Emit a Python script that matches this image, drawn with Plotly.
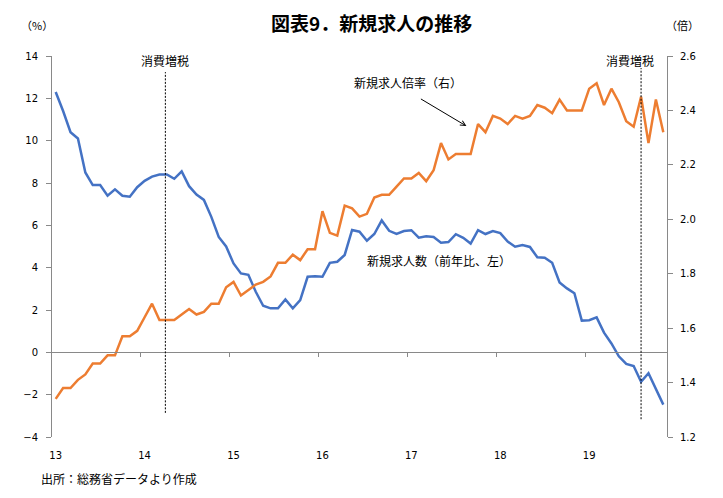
import plotly.graph_objects as go

# ---- data (monthly, Jan 2013 .. Nov 2019) ----
year_labels = ["13", "14", "15", "16", "17", "18", "19"]

new_openings_yoy = [  # 新規求人数（前年比、%） left axis
    12.3, 11.4, 10.4, 10.1, 8.5, 7.9, 7.9, 7.4, 7.7, 7.4, 7.35, 7.8,
    8.1, 8.3, 8.4, 8.4, 8.2, 8.55, 7.85, 7.45, 7.2, 6.4, 5.45, 5.0,
    4.2, 3.73, 3.66, 2.86, 2.2, 2.08, 2.08, 2.5, 2.08, 2.47, 3.57, 3.6,
    3.57, 4.23, 4.28, 4.6, 5.78, 5.7, 5.27, 5.59, 6.23, 5.74, 5.6, 5.73,
    5.77, 5.42, 5.48, 5.45, 5.18, 5.21, 5.58, 5.41, 5.14, 5.77, 5.59, 5.73,
    5.63, 5.23, 4.99, 5.07, 4.98, 4.49, 4.47, 4.23, 3.3, 3.02, 2.79, 1.5,
    1.52, 1.65, 0.93, 0.42, -0.19, -0.55, -0.65, -1.39, -0.99, -1.7, -2.47,
]

new_openings_ratio = [  # 新規求人倍率（倍） right axis
    1.34, 1.38, 1.38, 1.41, 1.43, 1.47, 1.47, 1.50, 1.50, 1.57, 1.57, 1.59,
    1.64, 1.69, 1.63, 1.63, 1.63, 1.65, 1.67, 1.65, 1.66, 1.69, 1.69, 1.75,
    1.77, 1.72, 1.74, 1.76, 1.77, 1.79, 1.84, 1.84, 1.87, 1.85, 1.89, 1.89,
    2.03, 1.95, 1.94, 2.05, 2.04, 2.01, 2.02, 2.08, 2.09, 2.09, 2.12, 2.15,
    2.15, 2.17, 2.14, 2.18, 2.28, 2.22, 2.24, 2.24, 2.24, 2.35, 2.32, 2.38,
    2.37, 2.35, 2.38, 2.37, 2.38, 2.42, 2.41, 2.39, 2.44, 2.40, 2.40, 2.40,
    2.48, 2.50, 2.42, 2.48, 2.43, 2.36, 2.34, 2.45, 2.28, 2.44, 2.32,
]

tax_hike_positions = [14.8, 79]   # month index where 消費増税 markers are drawn

n = len(new_openings_yoy)
months = list(range(n))
label_pos = [i * 12 for i in range(len(year_labels))]
boundary_ticks = [i * 12 - 0.5 for i in range(1, len(year_labels))]

BLUE = "#4472C4"
ORANGE = "#ED7D31"
GRAY = "#898989"
NUM_FONT = dict(family="DejaVu Sans", size=10, color="#000000")
JP = "Noto Sans CJK JP"

# plot area in page pixels (reference): x 52..667, y 56..437
PX0, PX1, PY0, PY1 = 52, 667, 56, 437
def px(x):
    return (x - PX0) / (PX1 - PX0)
def py(y):
    return (PY1 - y) / (PY1 - PY0)

fig = go.Figure()
fig.add_trace(go.Scatter(x=months, y=new_openings_yoy, mode="lines",
                         line=dict(color=BLUE, width=2.5), name="新規求人数（前年比、左）",
                         xaxis="x", yaxis="y"))
fig.add_trace(go.Scatter(x=months, y=new_openings_ratio, mode="lines",
                         line=dict(color=ORANGE, width=2.5), name="新規求人倍率（右）",
                         xaxis="x2", yaxis="y2"))

xr = [-0.5, n - 0.5]
fig.update_layout(
    width=707, height=482,
    margin=dict(l=44, r=48, t=48, b=53, pad=0),
    paper_bgcolor="white", plot_bgcolor="white",
    showlegend=False,
    xaxis=dict(range=xr, tickvals=label_pos, ticktext=year_labels, ticks="",
               showline=False, showgrid=False, zeroline=False, tickfont=NUM_FONT,
               anchor="y", ticklabelstandoff=11),
    xaxis2=dict(range=xr, matches="x", overlaying="x", anchor="free", position=4 / 18,
                tickvals=boundary_ticks, ticks="outside", ticklen=4, tickcolor=GRAY,
                showticklabels=False, showline=True, linecolor=GRAY, linewidth=1,
                showgrid=False, zeroline=False),
    yaxis=dict(range=[-4, 14], dtick=2, tick0=0, ticks="outside", ticklen=5,
               tickcolor=GRAY, showline=True, linecolor=GRAY, linewidth=1,
               showgrid=False, zeroline=False, tickfont=NUM_FONT, ticklabelstandoff=6),
    yaxis2=dict(range=[1.2, 2.6], dtick=0.2, tick0=1.2, tickformat=".1f",
                overlaying="y", side="right", anchor="free", position=1,
                ticks="outside", ticklen=5, tickcolor=GRAY, showline=True,
                linecolor=GRAY, linewidth=1, showgrid=False, zeroline=False,
                tickfont=NUM_FONT, ticklabelstandoff=5),
)

# 消費増税 dashed markers
line_spans = [(13.24, -2.86), (13.43, -3.16)]
label_shift = [0, -11]
for xpos, (top, bot), sh in zip(tax_hike_positions, line_spans, label_shift):
    fig.add_shape(type="line", xref="x", yref="y", x0=xpos, x1=xpos, y0=bot, y1=top,
                  line=dict(color="black", width=1, dash="2px,1.5px"))
    fig.add_annotation(x=xpos, y=13.8, xref="x", yref="y", text="消費増税", showarrow=False,
                       xshift=sh, xanchor="center", yanchor="middle",
                       font=dict(family=JP, size=12, color="#000"))

# series labels
fig.add_annotation(x=47.5, y=12.77, xref="x", yref="y", text="新規求人倍率（右）",
                   showarrow=False, xanchor="center", yanchor="middle",
                   font=dict(family=JP, size=12, color="#000"))
fig.add_annotation(x=55.43, y=10.69, xref="x", yref="y", text="", showarrow=True,
                   axref="pixel", ayref="pixel", ax=-47, ay=-28,
                   arrowhead=5, arrowsize=1, arrowwidth=1, arrowcolor="black", standoff=0)
fig.add_annotation(x=51.75, y=4.36, xref="x", yref="y", text="新規求人数（前年比、左）",
                   showarrow=False, xanchor="center", yanchor="middle",
                   font=dict(family=JP, size=12, color="#000"))

# title, unit labels, source
fig.add_annotation(x=px(371), y=py(23), xref="paper", yref="paper",
                   text="<b>図表9．新規求人の推移</b>", showarrow=False,
                   xanchor="center", yanchor="middle",
                   font=dict(family=JP, size=19, color="#000"))
fig.add_annotation(x=px(37), y=py(25), xref="paper", yref="paper",
                   text="（%）", showarrow=False, xanchor="center", yanchor="middle",
                   font=dict(family=JP, size=11, color="#000"))
fig.add_annotation(x=px(682), y=py(25), xref="paper", yref="paper",
                   text="（倍）", showarrow=False, xanchor="center", yanchor="middle",
                   font=dict(family=JP, size=11, color="#000"))
fig.add_annotation(x=px(39), y=py(478), xref="paper", yref="paper",
                   text="出所：総務省データより作成", showarrow=False,
                   xanchor="left", yanchor="middle",
                   font=dict(family=JP, size=12, color="#000"))

fig.write_html("out.html")
